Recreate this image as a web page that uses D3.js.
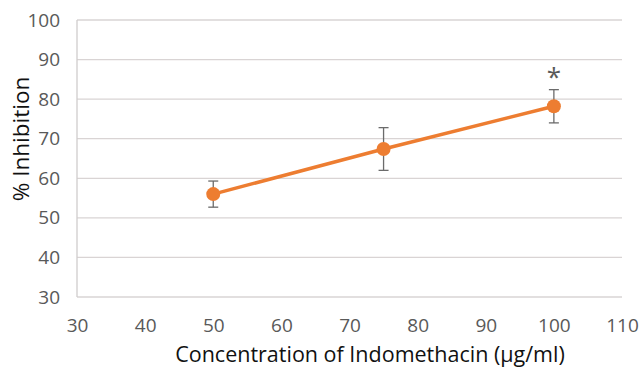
<html>
<head>
<style>
  body { margin: 0; background: #fff; }
  text { font-family: "Open Sans", sans-serif; }
</style>
</head>
<body>
<script src="https://d3js.org/d3.v7.min.js"></script>
<svg width="642" height="370"></svg>
<script>
// data
var concentrations = [50, 75, 100];
var inhibition = [56, 67.4, 78.2];
var errors = [3.3, 5.4, 4.2];
var significant = [false, false, true];
var xTicks = [30, 40, 50, 60, 70, 80, 90, 100, 110];
var yTicks = [30, 40, 50, 60, 70, 80, 90, 100];

var svg = d3.select("svg"),
    margin = {top: 20, right: 20, bottom: 73, left: 77},
    width = 642 - margin.left - margin.right,
    height = 370 - margin.top - margin.bottom,
    g = svg.append("g").attr("transform", "translate(" + margin.left + "," + margin.top + ")");

var x = d3.scaleLinear().domain([30, 110]).range([0, width]);
var y = d3.scaleLinear().domain([30, 100]).range([height, 0]);

var orange = "#ed7d31";

// gridlines
g.append("g")
    .selectAll("line")
    .data(yTicks)
    .enter().append("line")
      .attr("x1", 0)
      .attr("x2", width)
      .attr("y1", function(d) { return y(d); })
      .attr("y2", function(d) { return y(d); })
      .attr("stroke", "#d9d4d4")
      .attr("stroke-width", 1.3);

// left border
g.append("line")
    .attr("x1", 0).attr("x2", 0)
    .attr("y1", 0).attr("y2", height)
    .attr("stroke", "#d0cccc")
    .attr("stroke-width", 1.3);

var yAxis = g.append("g")
    .call(d3.axisLeft(y).tickValues(yTicks).tickSize(0).tickPadding(17));
yAxis.select(".domain").remove();
yAxis.selectAll("text")
    .attr("fill", "#595959")
    .style("font-size", "19px");

var xAxis = g.append("g")
    .attr("transform", "translate(0," + height + ")")
    .call(d3.axisBottom(x).tickValues(xTicks).tickSize(0).tickPadding(22));
xAxis.select(".domain").remove();
xAxis.selectAll("text")
    .attr("fill", "#595959")
    .style("font-size", "19px");

// axis titles
svg.append("text")
    .attr("transform", "translate(29,139) rotate(-90)")
    .attr("text-anchor", "middle")
    .attr("fill", "#111")
    .style("font-size", "22.5px")
    .text("% Inhibition");

svg.append("text")
    .attr("x", 370)
    .attr("y", 362)
    .attr("text-anchor", "middle")
    .attr("fill", "#111")
    .style("font-size", "21.5px")
    .text("Concentration of Indomethacin (µg/ml)");

var pts = concentrations.map(function(c, i) {
    return {x: c, y: inhibition[i], e: errors[i], star: significant[i]};
});

var line = d3.line()
    .x(function(d) { return x(d.x); })
    .y(function(d) { return y(d.y); });

g.append("path")
    .datum(pts)
    .attr("d", line)
    .attr("fill", "none")
    .attr("stroke", orange)
    .attr("stroke-width", 3.5);

// error bars
var eb = g.selectAll(".err")
    .data(pts)
    .enter().append("g")
      .attr("class", "err")
      .attr("stroke", "#6b6b6b")
      .attr("stroke-width", 1.3);
eb.append("line")
    .attr("x1", function(d) { return x(d.x); })
    .attr("x2", function(d) { return x(d.x); })
    .attr("y1", function(d) { return y(d.y + d.e); })
    .attr("y2", function(d) { return y(d.y - d.e); });
eb.append("line")
    .attr("x1", function(d) { return x(d.x) - 5; })
    .attr("x2", function(d) { return x(d.x) + 5; })
    .attr("y1", function(d) { return y(d.y + d.e); })
    .attr("y2", function(d) { return y(d.y + d.e); });
eb.append("line")
    .attr("x1", function(d) { return x(d.x) - 5; })
    .attr("x2", function(d) { return x(d.x) + 5; })
    .attr("y1", function(d) { return y(d.y - d.e); })
    .attr("y2", function(d) { return y(d.y - d.e); });

g.selectAll(".dot")
    .data(pts)
    .enter().append("circle")
      .attr("class", "dot")
      .attr("cx", function(d) { return x(d.x); })
      .attr("cy", function(d) { return y(d.y); })
      .attr("r", 7)
      .attr("fill", orange);

g.selectAll(".star")
    .data(pts.filter(function(d) { return d.star; }))
    .enter().append("text")
      .attr("class", "star")
      .attr("x", function(d) { return x(d.x); })
      .attr("y", function(d) { return y(d.y + d.e) - 4; })
      .attr("text-anchor", "middle")
      .attr("fill", "#595959")
      .style("font-size", "26px")
      .text("*");
</script>
</body>
</html>
